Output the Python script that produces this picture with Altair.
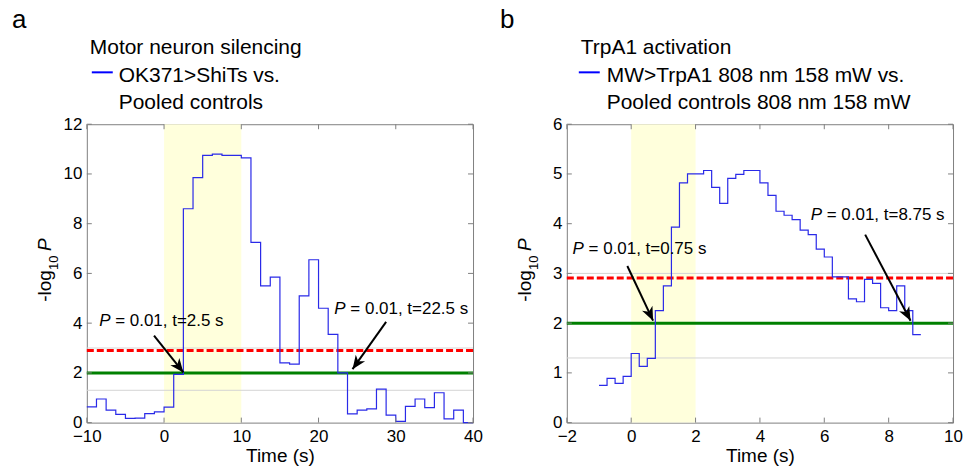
import math
import altair as alt
import pandas as pd

FONT = "Liberation Sans"
W, H = 387, 299

# ---------------- panel a data ----------------
a_time = [-10, -8.75, -7.5, -6.25, -5, -3.75, -2.5, -1.25, 0, 1.25, 2.5, 3.75, 5, 6.25,
          7.5, 8.75, 10, 11.25, 12.5, 13.75, 15, 16.25, 17.5, 18.75, 20, 21.25, 22.5,
          23.75, 25, 26.25, 27.5, 28.75, 30, 31.25, 32.5, 33.75, 35, 36.25, 37.5, 38.75, 40]
a_logp = [0.63, 0.95, 0.5, 0.33, 0.17, 0.18, 0.36, 0.43, 0.62, 1.94, 8.6, 9.85, 10.75, 10.8,
          10.75, 10.75, 10.65, 7.25, 5.5, 5.85, 2.4, 2.35, 5.1, 6.55, 4.6, 3.55, 2.0,
          0.35, 0.5, 0.55, 1.35, 0.3, 0.05, 0.65, 0.95, 0.6, 1.2, 0.15, 0.5, 0.0, 0.0]
a_xdomain = [-10, 40]
a_ydomain = [0, 12]
a_xticks = [-10, 0, 10, 20, 30, 40]
a_yticks = [0, 2, 4, 6, 8, 10, 12]
a_shade = [0, 10]
a_red = 2.9
a_title = "Motor neuron silencing"
a_legend = ["OK371>ShiTs vs.", "Pooled controls"]
a_ann_x = [-8.4, 22.05]
a_ann_y = [4.1, 4.55]
a_ann_rest = ["= 0.01, t=2.5 s", "= 0.01, t=22.5 s"]
a_arrow_x1 = [-1.3, 28.75]
a_arrow_y1 = [3.5, 4.05]
a_arrow_x2 = [2.5, 24.4]
a_arrow_y2 = [2.02, 2.15]

# ---------------- panel b data ----------------
b_time = [-1, -0.75, -0.5, -0.25, 0, 0.25, 0.5, 0.75, 1.0, 1.25, 1.5, 1.75, 2.0, 2.25, 2.5,
          2.75, 3.0, 3.25, 3.5, 3.75, 4.0, 4.25, 4.5, 4.75, 5.0, 5.25, 5.5, 5.75, 6.0, 6.25,
          6.5, 6.75, 7.0, 7.25, 7.5, 7.75, 8.0, 8.25, 8.5, 8.75, 9.0]
b_logp = [0.75, 0.89, 0.79, 0.93, 1.39, 1.13, 1.29, 2.25, 2.75, 3.93, 4.82, 5.0, 5.0, 5.07,
          4.73, 4.41, 4.91, 4.99, 5.07, 5.07, 4.82, 4.57, 4.25, 4.17, 4.08, 3.87, 3.78, 3.49,
          3.33, 2.93, 2.93, 2.49, 2.43, 2.88, 2.8, 2.31, 2.25, 2.75, 2.25, 1.77, 1.77]
b_xdomain = [-2, 10]
b_ydomain = [0, 6]
b_xticks = [-2, 0, 2, 4, 6, 8, 10]
b_yticks = [0, 1, 2, 3, 4, 5, 6]
b_shade = [0, 2]
b_red = 2.91
b_title = "TrpA1 activation"
b_legend = ["MW>TrpA1 808 nm 158 mW vs.", "Pooled controls 808 nm 158 mW"]
b_ann_x = [-1.82, 5.58]
b_ann_y = [3.49, 4.17]
b_ann_rest = ["= 0.01, t=0.75 s", "= 0.01, t=8.75 s"]
b_arrow_x1 = [-0.12, 7.27]
b_arrow_y1 = [3.15, 3.78]
b_arrow_x2 = [0.68, 8.68]
b_arrow_y2 = [2.05, 2.05]

green_level = 2.0
gray_levels = [1.3, 3.0]

ARROW_PATH = "M0,0 L-0.42,1 L0,0.72 L0.42,1 Z"


def panel(time, logp, xdom, ydom, xticks, yticks, shade, red, title, legend,
          ann_x, ann_y, ann_rest, ax1, ay1, ax2, ay2, letter, letter_dx,
          title_dx, line_dx, text_dx, spacer):
    xs = alt.Scale(domain=xdom, nice=False, zero=False)
    ys = alt.Scale(domain=ydom, nice=False, zero=False)

    x_axis = alt.Axis(values=xticks, title="Time (s)", grid=False, ticks=False,
                      domain=False, labelFontSize=17, labelFlush=False,
                      labelOverlap=False, labelPadding=6, titleFontSize=19,
                      titleFontWeight="normal", titlePadding=2, labelColor="black",
                      titleColor="black", labelFont=FONT, titleFont=FONT)
    y_axis = alt.Axis(values=yticks, title=None, grid=False, ticks=False, domain=False,
                      labelFontSize=17, labelPadding=5, labelColor="black",
                      labelOverlap=False, labelFont=FONT)

    def X(f):
        return alt.X(f, type="quantitative", scale=xs, axis=x_axis)

    def Y(f):
        return alt.Y(f, type="quantitative", scale=ys, axis=y_axis)

    shade_df = pd.DataFrame({"s": [shade[0]], "e": [shade[1]]})
    shade_layer = alt.Chart(shade_df).mark_rect(color="#FFFFDC").encode(
        x=X("s"), x2="e", y=alt.value(0), y2=alt.value(H))

    gray_layer = alt.Chart(pd.DataFrame({"v": gray_levels})).mark_rule(
        color="#D4D4D4", strokeWidth=1).encode(y=Y("v"))
    red_layer = alt.Chart(pd.DataFrame({"v": [red]})).mark_rule(
        color="#FF0000", strokeWidth=3, strokeDash=[7, 3]).encode(y=Y("v"))
    green_layer = alt.Chart(pd.DataFrame({"v": [green_level]})).mark_rule(
        color="#008000", strokeWidth=3).encode(y=Y("v"))

    line_df = pd.DataFrame({"t": time, "v": logp})
    line_layer = alt.Chart(line_df).mark_line(
        interpolate="step-after", color="#2A2AE8", strokeWidth=1.2).encode(
        x=X("t"), y=Y("v"))

    # inward ticks (bottom/top, left/right)
    xt = pd.DataFrame({"v": xticks})
    yt = pd.DataFrame({"v": yticks})
    tcol = "#808080"
    tb = alt.Chart(xt).mark_rule(color=tcol).encode(x=X("v"), y=alt.value(H), y2=alt.value(H - 5))
    tt = alt.Chart(xt).mark_rule(color=tcol).encode(x=X("v"), y=alt.value(0), y2=alt.value(5))
    tl = alt.Chart(yt).mark_rule(color=tcol).encode(y=Y("v"), x=alt.value(0), x2=alt.value(5))
    tr = alt.Chart(yt).mark_rule(color=tcol).encode(y=Y("v"), x=alt.value(W), x2=alt.value(W - 5))

    # arrows
    rows = []
    heads = []
    for i in range(len(ax1)):
        rows.append({"id": i, "x": ax1[i], "y": ay1[i]})
        rows.append({"id": i, "x": ax2[i], "y": ay2[i]})
        dxp = (ax2[i] - ax1[i]) * W / (xdom[1] - xdom[0])
        dyp = (ay2[i] - ay1[i]) * H / (ydom[1] - ydom[0])
        ang = math.degrees(math.atan2(dxp, dyp)) % 360
        heads.append({"x": ax2[i], "y": ay2[i], "a": ang})
    arrow_line = alt.Chart(pd.DataFrame(rows)).mark_line(color="black", strokeWidth=2).encode(
        x=X("x"), y=Y("y"), detail="id:N")
    arrow_head = alt.Chart(pd.DataFrame(heads)).mark_point(
        shape=ARROW_PATH, filled=True, color="black", opacity=1, size=750, strokeWidth=0).encode(
        x=X("x"), y=Y("y"), angle=alt.Angle("a:Q", scale=None))

    ann_df = pd.DataFrame({"x": ann_x, "y": ann_y, "p": ["P"] * len(ann_x), "rest": ann_rest})
    ann_p = alt.Chart(ann_df).mark_text(
        align="left", baseline="middle", fontSize=17, fontStyle="italic", font=FONT,
        color="black").encode(x=X("x"), y=Y("y"), text="p:N")
    ann_r = alt.Chart(ann_df).mark_text(
        align="left", baseline="middle", fontSize=17, font=FONT, dx=16,
        color="black").encode(x=X("x"), y=Y("y"), text="rest:N")

    def label(txt, x, y, size, **kw):
        return alt.Chart(pd.DataFrame({"t": [txt]})).mark_text(
            align="left", baseline="alphabetic", fontSize=size, font=FONT, color="black", **kw
        ).encode(x=alt.value(x), y=alt.value(y), text="t:N")

    letter_l = label(letter, letter_dx, -96, 26)
    title_l = label(title, title_dx, -70, 21)
    leg1 = label(legend[0], text_dx, -42, 21)
    leg2 = label(legend[1], text_dx, -15, 21)
    leg_line = alt.Chart(pd.DataFrame({"k": [0]})).mark_rule(color="#0000FF", strokeWidth=2).encode(
        x=alt.value(line_dx), x2=alt.value(line_dx + 21), y=alt.value(-52))

    ylab1 = label("-log", -36, 178, 19, angle=270)
    ylab2 = label("10", -29, 146, 13, angle=270)
    ylab3 = label("P", -36, 127, 19, angle=270, fontStyle="italic")

    sp = alt.Chart(pd.DataFrame({"k": [0]})).mark_rect(opacity=0).encode(
        x=alt.value(spacer[0]), x2=alt.value(spacer[1]),
        y=alt.value(spacer[2]), y2=alt.value(spacer[3]))

    return alt.layer(
        shade_layer, gray_layer, red_layer, green_layer, line_layer,
        tb, tt, tl, tr, arrow_line, arrow_head, ann_p, ann_r,
        letter_l, title_l, leg1, leg2, leg_line, ylab1, ylab2, ylab3, sp
    ).properties(width=W, height=H)


pa = panel(a_time, a_logp, a_xdomain, a_ydomain, a_xticks, a_yticks, a_shade, a_red,
           a_title, a_legend, a_ann_x, a_ann_y, a_ann_rest,
           a_arrow_x1, a_arrow_y1, a_arrow_x2, a_arrow_y2,
           "a", -75, 3, 5, 32, (-86, 0, -123, 0))
pb = panel(b_time, b_logp, b_xdomain, b_ydomain, b_xticks, b_yticks, b_shade, b_red,
           b_title, b_legend, b_ann_x, b_ann_y, b_ann_rest,
           b_arrow_x1, b_arrow_y1, b_arrow_x2, b_arrow_y2,
           "b", -67, 14, 12, 40, (W, W + 12, H, H + 47))

chart = alt.hconcat(pa, pb, spacing=94, bounds="flush").configure(
    padding=0, font=FONT, background="white"
).configure_view(stroke="#808080", strokeWidth=1)

chart.save("out.html", embed_options={"renderer": "svg", "actions": False})
